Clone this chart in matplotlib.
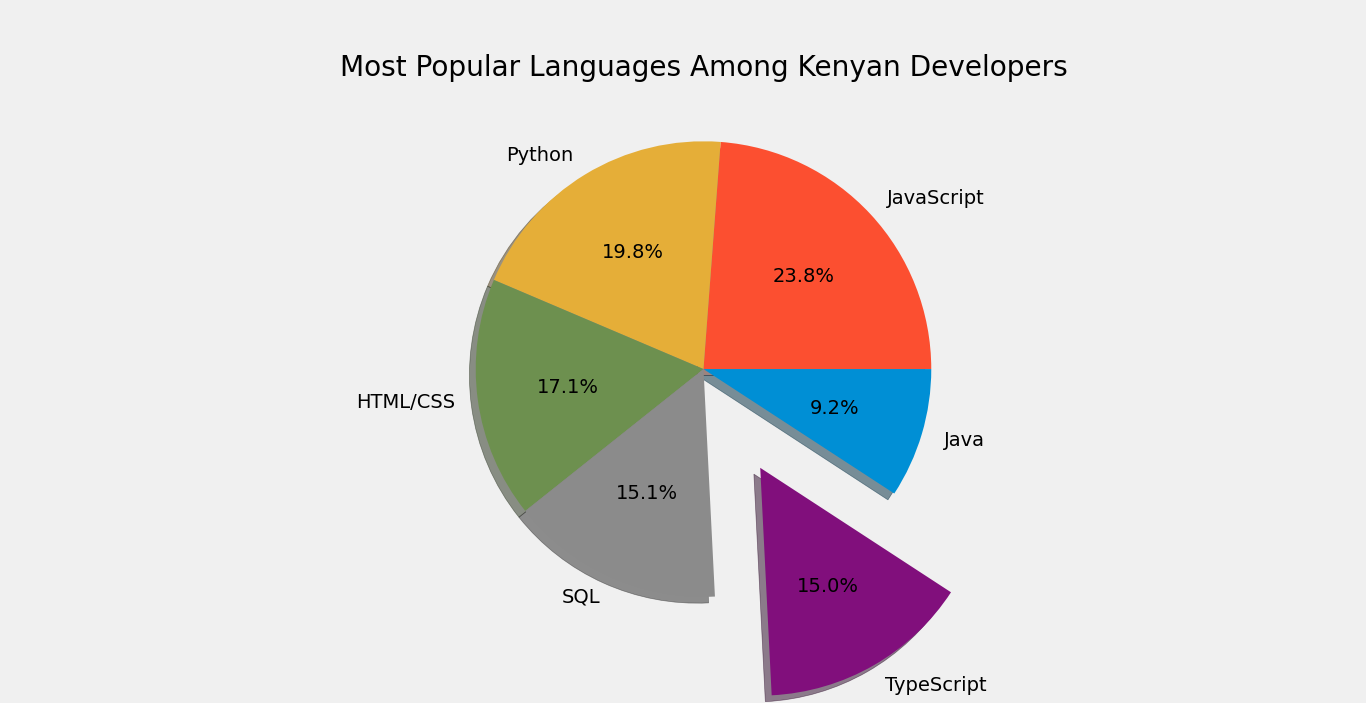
import matplotlib
matplotlib.use("Agg")
import matplotlib.pyplot as plt

plt.style.use("fivethirtyeight")

languages = ["JavaScript", "Python", "HTML/CSS", "SQL", "TypeScript", "Java"]
shares = [23.8, 19.8, 17.1, 15.1, 15.0, 9.2]
explode = [0, 0, 0, 0, 0.5, 0]
colors = ["#fc4f30", "#e5ae38", "#6d904f", "#8b8b8b", "#810f7c", "#008fd5"]

fig = plt.figure(figsize=(13.66, 7.03), dpi=100)
plt.pie(shares, labels=languages, explode=explode, colors=colors,
        shadow=True, autopct="%1.1f%%")
plt.title("Most Popular Languages Among Kenyan Developers")
fig.savefig("out.png", dpi=100, facecolor=fig.get_facecolor())
